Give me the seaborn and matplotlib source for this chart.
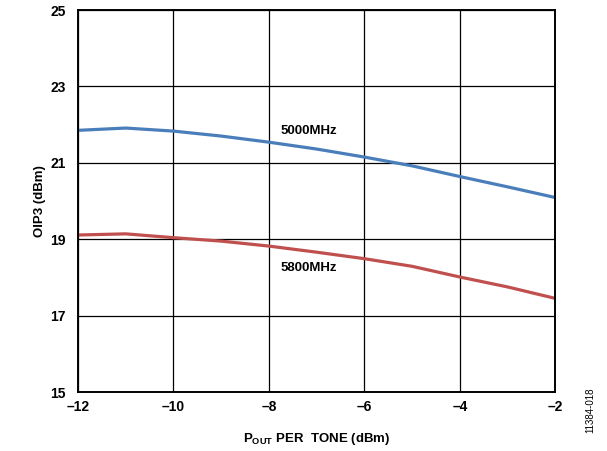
import numpy as np
import pandas as pd
import matplotlib
matplotlib.use("Agg")
import matplotlib.pyplot as plt
import seaborn as sns

# data
pout = [-12, -11, -10, -9, -8, -7, -6, -5, -4, -3, -2]
oip3_5000 = [21.85, 21.91, 21.83, 21.70, 21.54, 21.36, 21.15, 20.92, 20.64, 20.37, 20.09]
oip3_5800 = [19.11, 19.14, 19.04, 18.95, 18.82, 18.66, 18.49, 18.29, 18.01, 17.75, 17.45]
series = ["5000MHz", "5800MHz"]
colors = ["#4a7ebb", "#c0504d"]
x_ticks = [-12, -10, -8, -6, -4, -2]
y_ticks = [15, 17, 19, 21, 23, 25]

df = pd.concat([
    pd.DataFrame({"pout": pout, "oip3": oip3_5000, "freq": series[0]}),
    pd.DataFrame({"pout": pout, "oip3": oip3_5800, "freq": series[1]}),
])

sns.set_style("white")
plt.rcParams["font.family"] = ["Liberation Sans", "DejaVu Sans"]
plt.rcParams["mathtext.fontset"] = "custom"
plt.rcParams["mathtext.rm"] = "Liberation Sans:bold"
for k in ["text.color", "axes.labelcolor", "xtick.color", "ytick.color"]:
    plt.rcParams[k] = "black"

fig = plt.figure(figsize=(6.07, 4.51), dpi=100)
ax = fig.add_axes([0.1285, 0.1308, 0.7865, 0.8470])

sns.lineplot(data=df, x="pout", y="oip3", hue="freq", palette=colors,
             linewidth=2.3, legend=False, ax=ax)

ax.set_xlim(-12, -2)
ax.set_ylim(15, 25)
ax.set_xticks(x_ticks)
ax.set_yticks(y_ticks)
ax.set_xticklabels([str(t).replace("-", "\u2013") for t in x_ticks],
                   fontsize=10, fontweight="bold")
ax.set_yticklabels([str(t) for t in y_ticks], fontsize=10, fontweight="bold")
ax.tick_params(axis="x", length=0, pad=6)
ax.tick_params(axis="y", length=0, pad=9)
ax.grid(True, color="black", linewidth=0.9)
for s in ax.spines.values():
    s.set_color("black")
    s.set_linewidth(1.4)

ax.set_xlabel(r"P$_{\mathrm{OUT}}$ PER  TONE (dBm)", fontsize=9.5, fontweight="bold", labelpad=12)
ax.set_ylabel("OIP3 (dBm)", fontsize=9.5, fontweight="bold", labelpad=3)

ax.text(-7.75, 21.83, series[0], fontsize=9.5, fontweight="bold", ha="left", va="center")
ax.text(-7.75, 18.25, series[1], fontsize=9.5, fontweight="bold", ha="left", va="center")

fig.text(0.972, 0.09, "11384-018", rotation=90, fontsize=7, ha="center", va="center")

fig.savefig("out.png", dpi=100)
